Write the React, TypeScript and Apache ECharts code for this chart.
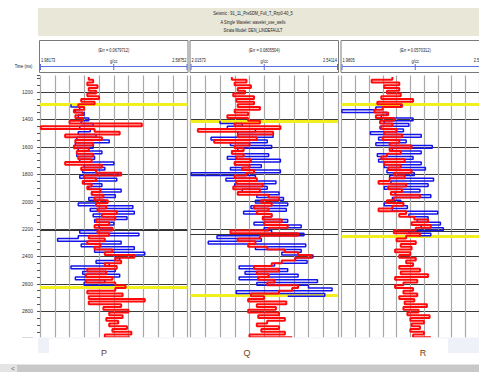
import React, { useEffect, useRef } from "react";
import * as echarts from "echarts";

// ---- Tracks -------------------------------------------------------------
const TRACK_NAMES = ["P", "Q", "R"];
const TRACK_MIN = [1.98173, 2.01573, 1.9805];
const TRACK_MAX = [2.58752, 2.54114, 2.53867];
const TRACK_ERR = ["0.0679712", "0.0805504", "0.0570312"];
const UNIT = "g/cc";

const HEADER_LINES = [
  "Seismic : 91_11_PreSDM_Full_T_Rzp0-40_5",
  "A Single Wavelet: wavelet_use_wells",
  "Strata Model: DEN_LINDEFAULT",
];

// ---- Time axis (ms) -----------------------------------------------------
const TIME_MIN = 1080;
const TIME_MAX = 3000;
const SAMPLE_MS = 20;

// first sample time of each curve
const MODEL_START = [1090, 1090, 1090];
const LOG_START = [1290, 1410, 1290];

// ---- Density curves (g/cc), one sample every SAMPLE_MS ------------------
// modelled density (red)
const pModel = [
  2.182, 2.2, 2.176, 2.218, 2.182, 2.212, 2.176, 2.224, 2.151, 2.206,
  2.139, 2.163, 2.121, 2.157, 2.127, 2.157, 2.103, 2.4, 1.985, 2.206,
  2.309, 2.085, 2.236, 2.127, 2.2, 2.121, 2.182, 2.133, 2.2, 2.139,
  2.194, 2.085, 2.236, 2.151, 2.212, 2.315, 2.163, 2.212, 2.157, 2.194,
  2.176, 2.23, 2.194, 2.242, 2.206, 2.26, 2.212, 2.254, 2.218, 2.297,
  2.236, 2.291, 2.212, 2.266, 2.206, 2.279, 2.218, 2.266, 2.182, 2.248,
  2.176, 2.23, 2.206, 2.279, 2.248, 2.369, 2.291, 2.315, 2.248, 2.297,
  2.176, 2.254, 2.17, 2.279, 2.17, 2.291, 2.333, 2.291, 2.176, 2.321,
  2.182, 2.412, 2.182, 2.315, 2.242, 2.345, 2.266, 2.321, 2.254, 2.303,
  2.266, 2.339, 2.279, 2.357, 2.248, 2.351,
];
const qModel = [
  2.163, 2.215, 2.173, 2.231, 2.184, 2.21, 2.168, 2.242, 2.179, 2.242,
  2.184, 2.263, 2.173, 2.221, 2.147, 2.221, 2.263, 2.173, 2.336, 2.042,
  2.31, 2.184, 2.252, 2.1, 2.226, 2.173, 2.205, 2.163, 2.205, 2.179,
  2.231, 2.173, 2.226, 2.2, 2.242, 2.215, 2.173, 2.252, 2.179, 2.273,
  2.168, 2.263, 2.184, 2.294, 2.331, 2.268, 2.305, 2.242, 2.294, 2.252,
  2.305, 2.273, 2.341, 2.278, 2.362, 2.294, 2.158, 2.399, 2.263, 2.184,
  2.247, 2.221, 2.289, 2.352, 2.399, 2.447, 2.389, 2.341, 2.305, 2.242,
  2.331, 2.252, 2.294, 2.257, 2.315, 2.289, 2.399, 2.378, 2.331, 2.231,
  2.278, 2.221, 2.357, 2.252, 2.32, 2.221, 2.331, 2.257, 2.352, 2.289,
  2.252, 2.331, 2.268, 2.352, 2.226, 2.378,
];
const rModel = [
  2.187, 2.103, 2.215, 2.154, 2.215, 2.165, 2.221, 2.142, 2.271, 2.126,
  2.226, 2.148, 2.114, 2.17, 2.12, 2.193, 2.137, 2.187, 2.142, 2.204,
  2.154, 2.226, 2.148, 2.215, 2.176, 2.265, 2.176, 2.221, 2.165, 2.142,
  2.237, 2.154, 2.221, 2.17, 2.265, 2.193, 2.237, 2.176, 2.131, 2.243,
  2.17, 2.226, 2.181, 2.299, 2.193, 2.165, 2.232, 2.187, 2.131, 2.243,
  2.215, 2.276, 2.332, 2.265, 2.343, 2.282, 2.193, 2.299, 2.243, 2.204,
  2.282, 2.221, 2.265, 2.198, 2.26, 2.215, 2.282, 2.243, 2.271, 2.215,
  2.299, 2.221, 2.332, 2.198, 2.288, 2.232, 2.198, 2.271, 2.232, 2.288,
  2.215, 2.276, 2.237, 2.327, 2.232, 2.293, 2.248, 2.338, 2.26, 2.315,
  2.265, 2.299, 2.26, 2.315, 2.271, 2.343,
];

// well-log density (blue)
const pLog = [
  2.109, 2.145, 2.127, 2.163, 2.139, 2.182, 2.151, 2.2, 2.145, 2.188,
  2.139, 2.212, 2.133, 2.266, 2.127, 2.2, 2.139, 2.236, 2.133, 2.206,
  2.145, 2.285, 2.163, 2.248, 2.157, 2.303, 2.145, 2.297, 2.163, 2.236,
  2.182, 2.315, 2.194, 2.291, 2.182, 2.248, 2.139, 2.363, 2.188, 2.369,
  2.2, 2.339, 2.206, 2.285, 2.224, 2.279, 2.145, 2.388, 2.139, 2.054,
  2.315, 2.151, 2.369, 2.206, 2.412, 2.291, 2.309, 2.212, 2.266, 2.109,
  2.291, 2.157, 2.309, 2.127, 2.248, 2.163, 2.291,
];
const qLog = [
  2.121, 2.2, 2.147, 2.247, 2.184, 2.31, 2.089, 2.289, 2.158, 2.305,
  2.184, 2.163, 2.294, 2.147, 2.336, 2.173, 2.268, 2.158, 2.336, 2.018,
  2.247, 2.142, 2.32, 2.173, 2.289, 2.2, 2.331, 2.252, 2.347, 2.247,
  2.362, 2.231, 2.357, 2.205, 2.305, 2.273, 2.362, 2.242, 2.41, 2.278,
  2.305, 2.42, 2.11, 2.268, 2.079, 2.426, 2.247, 2.41, 2.341, 2.452,
  2.389, 2.431, 2.315, 2.189, 2.362, 2.21, 2.399, 2.189, 2.468, 2.252,
  2.436, 2.52, 2.179, 2.494, 2.362,
];
const rLog = [
  2.221, 2.12, 1.982, 2.165, 2.142, 2.271, 2.154, 2.254, 2.137, 2.232,
  2.098, 2.304, 2.131, 2.243, 2.12, 2.349, 2.187, 2.304, 2.126, 2.271,
  2.131, 2.304, 2.154, 2.321, 2.165, 2.276, 2.176, 2.354, 2.181, 2.332,
  2.154, 2.299, 2.198, 2.343, 2.187, 2.221, 2.154, 2.248, 2.187, 2.371,
  2.254, 2.332, 2.288, 2.382, 2.304, 2.394, 2.254, 2.343, 2.293,
];

const MODEL_CURVES = [pModel, qModel, rModel];
const LOG_CURVES = [pLog, qLog, rLog];

// horizon picks (ms)
const YELLOW_PICKS = [[1290, 2627], [1415, 2680], [1290, 2251]];
const BLACK_PICKS = [[2212], [2239], [2218]];

// ---- Layout ---------------------------------------------------------------
const FONT = "Liberation Sans, Arial, sans-serif";
const TRACK_LEFT = [40, 190.5, 341.5];
const TRACK_WIDTH = 147.5;
const PLOT_TOP = 75.6;
const PLOT_HEIGHT = 263;
const NAME_X = [104, 247, 423];

const toPoints = (vals: number[], start: number) =>
  vals.map((v, i) => [v, start + i * SAMPLE_MS]);

const txt = (
  text: string,
  x: number,
  y: number,
  o: { size?: number; align?: string; color?: string; sx?: number; z?: number } = {}
) => ({
  type: "text",
  x,
  y,
  scaleX: o.sx ?? 0.72,
  z: o.z ?? 10,
  silent: true,
  style: {
    text,
    fontSize: o.size ?? 5.5,
    fontFamily: FONT,
    fill: o.color ?? "#222",
    textAlign: o.align ?? "center",
    textVerticalAlign: "middle",
  },
});

function buildOption() {
  const graphic: any[] = [];

  // title block
  graphic.push({
    type: "rect",
    z: 5,
    silent: true,
    shape: { x: 38, y: 8, width: 441, height: 28 },
    style: { fill: "#e9e7d8" },
  });
  HEADER_LINES.forEach((line, i) => graphic.push(txt(line, 253, 13.5 + i * 8.5)));
  graphic.push(txt("Time (ms)", 23.5, 66));

  // per-track headers
  TRACK_NAMES.forEach((_, k) => {
    const l = TRACK_LEFT[k];
    const r = l + TRACK_WIDTH;
    const c = l + TRACK_WIDTH / 2;
    graphic.push({
      type: "rect",
      z: 5,
      silent: true,
      shape: { x: l - 0.5, y: 40.5, width: TRACK_WIDTH + 1, height: 32 },
      style: { fill: "#fff", stroke: "#7a7a7a", lineWidth: 1 },
    });
    graphic.push(txt(`(Err = ${TRACK_ERR[k]})`, c, 50));
    graphic.push(txt(String(TRACK_MIN[k]), l + 1, 60, { align: "left" }));
    graphic.push(txt(UNIT, c, 61));
    graphic.push(txt(String(TRACK_MAX[k]), r - 1, 60, { align: "right" }));
    const blue = { stroke: "#5b6fe0", lineWidth: 1 };
    graphic.push({ type: "line", z: 10, silent: true, shape: { x1: l + 0.5, y1: 66.5, x2: r - 0.5, y2: 66.5 }, style: blue });
    [l + 0.5, c, r - 0.5].forEach((x) =>
      graphic.push({ type: "line", z: 10, silent: true, shape: { x1: x, y1: 64, x2: x, y2: 70 }, style: blue })
    );
  });

  // lower panel with track names and scroll bar
  graphic.push({ type: "rect", z: 100, silent: true, shape: { x: 0, y: 337.5, width: 479, height: 35 }, style: { fill: "#fff" } });
  graphic.push({ type: "rect", z: 101, silent: true, shape: { x: 38, y: 337.5, width: 441, height: 15.5 }, style: { fill: "#eef2f8" } });
  graphic.push({ type: "rect", z: 102, silent: true, shape: { x: 49, y: 338.5, width: 399, height: 25.5 }, style: { fill: "#fff" } });
  TRACK_NAMES.forEach((n, k) =>
    graphic.push(txt(n, NAME_X[k], 352.5, { size: 9, color: "#6e421c", sx: 1, z: 103 }))
  );
  graphic.push({ type: "rect", z: 101, silent: true, shape: { x: 0, y: 364, width: 479, height: 8 }, style: { fill: "#e4e4e4" } });
  graphic.push({ type: "rect", z: 102, silent: true, shape: { x: 17, y: 365, width: 462, height: 7 }, style: { fill: "#c8c8c8" } });
  graphic.push(txt("<", 13, 368.5, { size: 7, color: "#666", sx: 1, z: 103 }));

  const grid = TRACK_LEFT.map((l) => ({ left: l, top: PLOT_TOP, width: TRACK_WIDTH, height: PLOT_HEIGHT }));

  const xAxis: any[] = [];
  const yAxis: any[] = [];
  const series: any[] = [];

  TRACK_NAMES.forEach((name, k) => {
    xAxis.push({ type: "value", gridIndex: k, min: TRACK_MIN[k], max: TRACK_MAX[k], show: false });
    // ten equal divisions across each track
    xAxis.push({
      type: "value",
      gridIndex: k,
      min: 0,
      max: 10,
      interval: 1,
      axisLine: { show: false },
      axisTick: { show: false },
      axisLabel: { show: false },
      splitLine: { show: true, lineStyle: { color: "#a8a8a8", width: 1.2 } },
    });
    const first = k === 0;
    yAxis.push({
      type: "value",
      gridIndex: k,
      inverse: true,
      min: TIME_MIN,
      max: TIME_MAX,
      minInterval: 200,
      maxInterval: 200,
      offset: first ? 4 : 0,
      axisLine: { show: false },
      axisTick: { show: first, length: 3, lineStyle: { color: "#555" } },
      minorTick: { show: first, splitNumber: 4, length: 3, lineStyle: { color: "#555" } },
      axisLabel: {
        show: first,
        fontSize: 5,
        color: "#333",
        margin: 3,
        fontFamily: FONT,
        showMinLabel: false,
        showMaxLabel: true,
        formatter: (v: number) => String(v),
      },
      splitLine: { show: true, showMinLine: false, showMaxLine: false, lineStyle: { color: "#3a3a3a", width: 1 } },
    });

    series.push({
      type: "line",
      name: `${name} log`,
      xAxisIndex: 2 * k,
      yAxisIndex: k,
      data: toPoints(LOG_CURVES[k], LOG_START[k]),
      step: "start",
      symbol: "none",
      silent: true,
      z: 2,
      lineStyle: { color: "#1414ea", width: 1.5 },
      markLine: {
        silent: true,
        z: 1,
        symbol: ["none", "none"],
        label: { show: false },
        data: [
          ...YELLOW_PICKS[k].map((t) => ({ yAxis: t, lineStyle: { color: "#f3ef1c", width: 2.8, type: "solid" } })),
          ...BLACK_PICKS[k].map((t) => ({ yAxis: t, lineStyle: { color: "#333", width: 1, type: "solid" } })),
        ],
      },
    });
    series.push({
      type: "line",
      name: `${name} model`,
      xAxisIndex: 2 * k,
      yAxisIndex: k,
      data: toPoints(MODEL_CURVES[k], MODEL_START[k]),
      step: "start",
      symbol: "none",
      silent: true,
      z: 3,
      lineStyle: { color: "#ff0a0a", width: 2 },
    });
  });

  return {
    animation: false,
    backgroundColor: "#ffffff",
    grid,
    xAxis,
    yAxis,
    series,
    graphic,
  };
}

export default function App() {
  const ref = useRef<HTMLDivElement>(null);
  useEffect(() => {
    document.body.style.margin = "0";
    const chart = echarts.init(ref.current!, null, { renderer: "svg" });
    chart.setOption(buildOption() as any);
    return () => chart.dispose();
  }, []);
  return <div ref={ref} style={{ width: 479, height: 372 }} />;
}
